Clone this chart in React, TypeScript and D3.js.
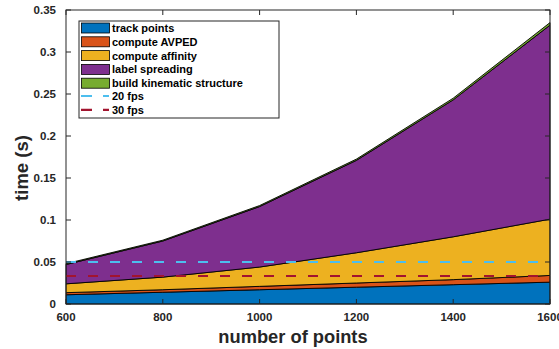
import React from "react";
import * as d3 from "d3";

const points = [600, 800, 1000, 1200, 1400, 1600];
const trackPoints = [0.011, 0.014, 0.017, 0.02, 0.023, 0.026];
const computeAvped = [0.0025, 0.003, 0.004, 0.005, 0.006, 0.008];
const computeAffinity = [0.0105, 0.015, 0.023, 0.036, 0.051, 0.067];
const labelSpreading = [0.023, 0.043, 0.072, 0.11, 0.163, 0.231];
const buildKinematic = [0.001, 0.001, 0.0012, 0.0015, 0.002, 0.003];

const seriesNames = ["track points", "compute AVPED", "compute affinity", "label spreading", "build kinematic structure"];
const seriesColors = ["#0072BD", "#D95319", "#EDB120", "#7E2F8E", "#77AC30"];
const fpsLines = [
  { label: "20 fps", value: 1 / 20, color: "#4DBEEE" },
  { label: "30 fps", value: 1 / 30, color: "#A2142F" },
];
const xTicks = [600, 800, 1000, 1200, 1400, 1600];
const yTicks = [0, 0.05, 0.1, 0.15, 0.2, 0.25, 0.3, 0.35];

const W = 559;
const H = 349;
const left = 66, right = 550, top = 10, bottom = 304;
const ink = "#262626";
const font = "'Liberation Sans', Arial, Helvetica, sans-serif";

export default function App() {
  const x = d3.scaleLinear().domain([600, 1600]).range([left, right]);
  const y = d3.scaleLinear().domain([0, 0.35]).range([bottom, top]);

  const rows = points.map((p, i) => ({
    p,
    s0: trackPoints[i],
    s1: computeAvped[i],
    s2: computeAffinity[i],
    s3: labelSpreading[i],
    s4: buildKinematic[i],
  }));
  const stacked = d3.stack<any>().keys(["s0", "s1", "s2", "s3", "s4"])(rows);
  const area = d3
    .area<any>()
    .x((d) => x(d.data.p))
    .y0((d) => y(d[0]))
    .y1((d) => y(d[1]));

  const legX = 79, legY = 21, legW = 200, rowH = 13.8;

  return (
    <svg width={W} height={H} style={{ position: "absolute", left: 0, top: 0, display: "block" }} fontFamily={font}>
      <rect width={W} height={H} fill="#fff" />
      {stacked.map((s, i) => (
        <path key={i} d={area(s) || ""} fill={seriesColors[i]} stroke="#000" strokeWidth={0.9} strokeLinejoin="round" />
      ))}
      {fpsLines.map((f) => (
        <line key={f.label} x1={left} x2={right} y1={y(f.value)} y2={y(f.value)} stroke={f.color} strokeWidth={2.2} strokeDasharray="10,12" />
      ))}

      {/* axes box */}
      <rect x={left} y={top} width={right - left} height={bottom - top} fill="none" stroke={ink} strokeWidth={1} />
      {xTicks.map((t) => (
        <g key={t}>
          <line x1={x(t)} x2={x(t)} y1={bottom} y2={bottom - 5} stroke={ink} />
          <line x1={x(t)} x2={x(t)} y1={top} y2={top + 5} stroke={ink} />
          <text x={x(t)} y={321} textAnchor="middle" fontSize={11.5} fontWeight="bold" fill={ink}>{t}</text>
        </g>
      ))}
      {yTicks.map((t) => (
        <g key={t}>
          <line x1={left} x2={left + 5} y1={y(t)} y2={y(t)} stroke={ink} />
          <line x1={right} x2={right - 5} y1={y(t)} y2={y(t)} stroke={ink} />
          <text x={56} y={y(t) + 4} textAnchor="end" fontSize={11.5} fontWeight="bold" fill={ink}>{t}</text>
        </g>
      ))}
      <text x={293} y={343} textAnchor="middle" fontSize={18.3} fontWeight="bold" fill={ink}>number of points</text>
      <text transform="translate(28,168) rotate(-90)" textAnchor="middle" fontSize={18.5} fontWeight="bold" fill={ink}>time (s)</text>

      {/* legend */}
      <rect x={legX} y={legY} width={legW} height={97} fill="#fff" stroke={ink} strokeWidth={1} />
      {seriesNames.map((n, i) => {
        const cy = 28 + i * rowH;
        return (
          <g key={n}>
            <rect x={81.5} y={cy - 5} width={28} height={10} fill={seriesColors[i]} stroke="#000" strokeWidth={0.8} />
            <text x={112} y={cy + 4} fontSize={11} fontWeight="bold" fill="#000">{n}</text>
          </g>
        );
      })}
      {fpsLines.map((f, j) => {
        const cy = 28 + (5 + j) * rowH - 1;
        return (
          <g key={f.label}>
            <line x1={81} x2={109} y1={cy} y2={cy} stroke={f.color} strokeWidth={2.2} strokeDasharray="11,11" />
            <text x={112} y={cy + 4} fontSize={11} fontWeight="bold" fill="#000">{f.label}</text>
          </g>
        );
      })}
    </svg>
  );
}
